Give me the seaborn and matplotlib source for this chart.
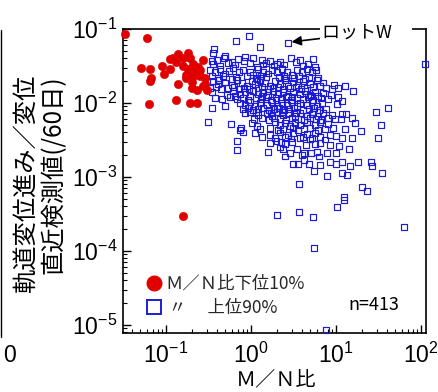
import matplotlib
matplotlib.use("Agg")
import matplotlib.pyplot as plt
import seaborn as sns
import pandas as pd
from matplotlib.lines import Line2D
from matplotlib.ticker import LogLocator, NullFormatter

# ---------------- data ----------------
red_mn = [0.033, 0.059, 0.051, 0.064, 0.067, 0.064, 0.063, 0.090, 0.094, 0.11,
          0.12, 0.11, 0.14, 0.18, 0.16, 0.19, 0.27, 0.21, 0.16, 0.18,
          0.22, 0.25, 0.17, 0.19, 0.22, 0.25, 0.29, 0.14, 0.20, 0.20,
          0.23, 0.27, 0.30, 0.13, 0.19, 0.23, 0.29, 0.16, 0.13, 0.17, 0.24]
red_rate = [0.085, 0.076, 0.030, 0.029, 0.022, 0.020, 0.0096, 0.032, 0.025, 0.039,
            0.040, 0.029, 0.046, 0.048, 0.041, 0.040, 0.038, 0.034, 0.032, 0.029,
            0.028, 0.028, 0.022, 0.024, 0.024, 0.023, 0.022, 0.018, 0.019, 0.016,
            0.015, 0.017, 0.015, 0.011, 0.010, 0.010, 0.018, 0.0003, 0.036, 0.024, 0.031]

blue_mn = [
    0.67, 0.95, 1.28, 2.72, 2.96, 111, 0.37, 0.36, 0.35, 2.19, 4.09, 5.66,
    9.46, 10.5, 8.96, 15.8, 40.8, 29.5, 33.8, 31.2, 19.7, 16.7, 15.4, 13.1, 11.75, 11.4,
    15.4, 14.2, 11.75, 10.8, 10.0, 11.75, 8.49, 7.8, 11.75, 13.45, 18.1, 25.8, 26.5, 34.7,
    20.2, 23.1, 12.4, 3.67, 2.02, 3.67, 5.36, 10.3, 12.4, 63, 5.5, 7.6,
    0.31, 0.35, 0.49, 0.58, 0.76, 0.74, 0.80, 0.68, 0.68, 1.58, 2.5, 3.1, 4.2, 4.8,
    5.5, 3.5, 4.2, 5.1, 6.3, 2.2, 2.4, 2.0, 2.25, 3.77, 4.9, 5.7, 7.4,
    0.40, 0.48, 0.60, 0.70, 0.97, 1.06, 1.35, 1.38, 1.67, 2.02, 5.36,
    0.36, 0.43, 0.54, 0.65, 0.83, 1.18, 1.50, 1.87, 2.45, 3.38, 4.68, 0.49, 0.85, 3.77,
    0.33, 0.38, 0.43, 0.49, 0.55, 0.61, 0.72, 0.81, 0.97, 1.06, 1.21, 1.38,
    1.59, 1.77, 2.02, 2.32, 2.65, 3.04, 3.48, 3.98, 4.56, 5.22, 5.8,
    0.35, 0.41, 0.47, 0.67, 0.90, 1.15, 1.31, 1.50, 2.14, 2.45, 3.2, 3.67, 4.81,
    0.36, 0.41, 0.49, 0.60, 0.68, 0.78, 0.90, 1.03, 1.11, 1.28, 1.46, 1.67,
    1.92, 2.19, 2.51, 2.72, 3.12, 3.57, 4.09, 4.94, 5.97, 6.48, 7.0,
    0.33, 0.39, 0.44, 0.54, 0.63, 0.72, 0.83, 0.95, 1.21, 1.35, 1.58,
    1.81, 2.08, 2.38, 2.88, 3.38, 3.87, 4.56, 5.36, 7.6, 12.7,
    0.42, 0.60, 1.18, 2.58, 4.32, 6.14,
    0.35, 0.52, 0.61, 0.74, 0.85, 0.97, 1.06, 1.21, 1.38, 1.58, 1.81,
    2.08, 2.38, 2.72, 3.12, 3.77, 4.32, 4.94, 5.66, 6.14, 7.0,
    0.38, 0.455, 0.57, 0.68, 0.80, 0.92, 1.15, 1.31, 1.50, 1.72, 1.97,
    2.25, 2.58, 2.96, 3.48, 4.09, 4.68, 5.36, 6.66, 8.04, 10.5,
    0.74, 0.85, 0.97, 1.11, 1.28, 1.54, 1.77, 2.02, 2.32, 2.65,
    3.04, 3.48, 3.77, 4.56, 5.22, 5.97, 6.84, 10.3, 11.75,
    0.80, 0.92, 1.06, 1.21, 1.38, 1.63, 1.87, 2.14, 2.45, 2.80, 3.2, 4.09, 4.81, 5.5, 6.3, 7.6,
    0.65, 1.35, 3.04, 5.08, 8.7,
    0.85, 1.15, 1.72, 2.32, 3.38, 5.36,
    0.97, 1.21, 1.54, 1.77, 2.02, 2.38, 2.72, 3.29, 3.77, 4.56, 5.2, 6.14, 7.0, 8.96,
    1.08, 1.35, 1.63, 1.87, 2.19, 2.58, 3.04, 3.57, 4.2, 4.94, 5.8, 6.66, 8.04, 9.7,
    1.03, 1.18, 1.92, 2.19, 2.51, 2.88, 3.29, 3.77, 4.56, 5.66, 6.48, 8.04,
    1.28, 1.67, 2.08, 2.38, 3.12, 3.57, 4.2, 4.94, 6.14, 7.4, 9.2, 12.7,
    1.11, 1.67, 2.19, 2.72, 3.12, 4.56, 5.66, 8.49,
    1.35, 1.92, 2.51, 2.96, 4.09, 5.22, 6.48, 10.0,
    1.67, 2.51, 3.04, 4.44, 6.48, 8.49,
    2.88, 3.98, 5.97, 7.8,
    3.57, 6.48, 10.0, 14.6,
]
blue_rate = [
    0.069, 0.080, 0.057, 0.065, 0.041, 0.034, 0.054, 0.047, 0.037, 0.036, 0.032, 0.031,
    0.0175, 0.016, 0.0155, 0.0146, 0.0086, 0.0076, 0.0050, 0.0034, 0.0042, 0.0054, 0.0063, 0.0071, 0.0071, 0.0061,
    0.0034, 0.0024, 0.0034, 0.0026, 0.0021, 0.0016, 0.0016, 0.00103, 0.00113, 0.00106, 0.0016, 0.0016, 0.0014, 0.00113,
    0.00073, 0.00065, 0.00054, 0.00080, 0.00031, 0.00034, 0.00029, 0.00039, 0.00049, 0.00021, 0.00011, 0.0000085,
    0.0055, 0.0086, 0.0091, 0.0052, 0.0046, 0.0043, 0.0040, 0.0031, 0.0023, 0.0022, 0.0019, 0.0015, 0.0017, 0.0015,
    0.0012, 0.0024, 0.0021, 0.0021, 0.0019, 0.0025, 0.0024, 0.0031, 0.0030, 0.0034, 0.0032, 0.0028, 0.0032,
    0.038, 0.041, 0.036, 0.039, 0.035, 0.041, 0.038, 0.033, 0.037, 0.034, 0.039,
    0.034, 0.032, 0.035, 0.033, 0.037, 0.031, 0.035, 0.032, 0.033, 0.036, 0.034, 0.043, 0.042, 0.038,
    0.028, 0.026, 0.029, 0.025, 0.027, 0.030, 0.026, 0.028, 0.026, 0.024, 0.029, 0.026,
    0.025, 0.028, 0.026, 0.029, 0.026, 0.024, 0.028, 0.026, 0.029, 0.026, 0.028,
    0.023, 0.022, 0.023, 0.0225, 0.023, 0.022, 0.023, 0.0225, 0.0225, 0.023, 0.022, 0.023, 0.0225,
    0.020, 0.018, 0.019, 0.0175, 0.0205, 0.0187, 0.017, 0.020, 0.018, 0.0205, 0.0187, 0.017,
    0.020, 0.018, 0.0205, 0.017, 0.019, 0.0175, 0.020, 0.018, 0.0205, 0.017, 0.019,
    0.016, 0.0165, 0.0155, 0.016, 0.0165, 0.0155, 0.016, 0.0155, 0.016, 0.0165, 0.0155,
    0.016, 0.0165, 0.0155, 0.016, 0.0165, 0.0155, 0.016, 0.0165, 0.016, 0.017,
    0.0205, 0.021, 0.021, 0.022, 0.021, 0.022,
    0.0141, 0.0128, 0.0146, 0.0133, 0.0141, 0.0125, 0.0146, 0.0133, 0.0141, 0.0128, 0.0146,
    0.0133, 0.0141, 0.0125, 0.0141, 0.0133, 0.0146, 0.0128, 0.0141, 0.0125, 0.0137,
    0.0117, 0.0113, 0.0121, 0.0113, 0.0117, 0.0110, 0.0117, 0.0113, 0.0121, 0.0110, 0.0117,
    0.0113, 0.0121, 0.0110, 0.0117, 0.0113, 0.0121, 0.0110, 0.0117, 0.0113, 0.0121,
    0.0100, 0.0094, 0.0103, 0.0091, 0.0100, 0.0094, 0.0103, 0.0091, 0.0100, 0.0094,
    0.0103, 0.0091, 0.0100, 0.0094, 0.0103, 0.0091, 0.0100, 0.0097, 0.0107,
    0.0083, 0.0086, 0.0080, 0.0083, 0.0086, 0.0080, 0.0083, 0.0086, 0.0080, 0.0083, 0.0086, 0.0080, 0.0083, 0.0086, 0.0080, 0.0083,
    0.0125, 0.0125, 0.0121, 0.0125, 0.0128,
    0.0073, 0.0076, 0.0073, 0.0076, 0.0073, 0.0076,
    0.0076, 0.0069, 0.0073, 0.0067, 0.0076, 0.0069, 0.0073, 0.0067, 0.0073, 0.0067, 0.0071, 0.0067, 0.0073, 0.0069,
    0.0061, 0.0063, 0.0059, 0.0063, 0.0061, 0.0059, 0.0063, 0.0061, 0.0059, 0.0063, 0.0061, 0.0059, 0.0063, 0.0061,
    0.0054, 0.0049, 0.0055, 0.0050, 0.0054, 0.0049, 0.0054, 0.0050, 0.0055, 0.0050, 0.0055, 0.0052,
    0.0045, 0.0046, 0.0043, 0.0045, 0.0046, 0.0043, 0.0045, 0.0046, 0.0043, 0.0045, 0.0046, 0.0045,
    0.0039, 0.0037, 0.0040, 0.0037, 0.0039, 0.0038, 0.0039, 0.0037,
    0.0035, 0.0034, 0.0035, 0.0033, 0.0035, 0.0034, 0.0035, 0.0036,
    0.0029, 0.0028, 0.0030, 0.0027, 0.0029, 0.0027,
    0.0021, 0.0020, 0.0022, 0.0021,
    0.0015, 0.00145, 0.0015, 0.0014,
]

lot_w = (2.72, 0.065)
n_total = 413
legend_labels = ["Ｍ／Ｎ比下位10%", " 〃　 上位90%"]
xlabel = "Ｍ／Ｎ比"
ylabel = "軌道変位進み／変位\n直近検測値(/60日)"

RED = "#e00000"
BLUE = "#1c1cd8"

# ---------------- style ----------------
sns.set_theme(style="ticks")
plt.rcParams["font.family"] = ["Noto Sans CJK JP", "DejaVu Sans"]
plt.rcParams["axes.unicode_minus"] = True

fig = plt.figure(figsize=(4.39, 3.92), dpi=100, facecolor="white")
W, H = 439, 392
ax = fig.add_axes([123 / W, 1 - 333 / H, (426 - 123) / W, (333 - 29) / H])
ax.set_xscale("log")
ax.set_yscale("log")

df_blue = pd.DataFrame({"mn": blue_mn, "rate": blue_rate})
df_red = pd.DataFrame({"mn": red_mn, "rate": red_rate})

sns.scatterplot(data=df_blue, x="mn", y="rate", ax=ax, marker="s", s=17,
                facecolor="none", edgecolor=BLUE, linewidth=0.85,
                clip_on=False, zorder=3)
sns.scatterplot(data=df_red, x="mn", y="rate", ax=ax, marker="o", s=36,
                color=RED, edgecolor=RED, linewidth=0.4,
                clip_on=False, zorder=4)

ax.set_xlim(0.0312, 114.5)
ax.set_ylim(7.8e-6, 0.1)

for sp in ax.spines.values():
    sp.set_color("black")
    sp.set_linewidth(1.2)

ax.xaxis.set_major_locator(LogLocator(base=10, numticks=10))
ax.yaxis.set_major_locator(LogLocator(base=10, numticks=10))
ax.xaxis.set_minor_locator(LogLocator(base=10, subs=range(2, 10), numticks=20))
ax.yaxis.set_minor_locator(LogLocator(base=10, subs=range(2, 10), numticks=20))
ax.xaxis.set_minor_formatter(NullFormatter())
ax.yaxis.set_minor_formatter(NullFormatter())
ax.tick_params(which="both", direction="in", top=False, right=False,
               color="black", labelcolor="black")
ax.tick_params(which="major", length=6, width=1.0, labelsize=16.5,
               labelfontfamily="Liberation Sans")
ax.tick_params(axis="x", which="major", pad=7)
ax.tick_params(axis="y", which="major", pad=4)
ax.tick_params(which="minor", length=3, width=0.8)

ax.set_xlabel(xlabel, fontsize=14.5, color="black")
ax.xaxis.set_label_coords(0.505, -0.118)
ax.set_ylabel(ylabel, fontsize=17.5, color="black", multialignment="right",
              linespacing=1.1)
ax.yaxis.set_label_coords(-0.185, 0.49)

# annotation for lot W
ax.annotate("ロットW　", xy=(3.0, 0.067), xytext=(6.84, 0.088),
            ha="left", va="center", fontsize=13, color="black",
            bbox=dict(boxstyle="square,pad=0.12", fc="white", ec="none"),
            arrowprops=dict(arrowstyle="-|>", color="black", lw=1.2,
                            shrinkA=0, shrinkB=0, mutation_scale=14),
            annotation_clip=False, zorder=6)

# legend
h1 = Line2D([], [], ls="none", marker="o", ms=10.5, mfc=RED, mec=RED)
h2 = Line2D([], [], ls="none", marker="s", ms=10, mfc="none", mec=BLUE, mew=1.4)
ax.legend([h1, h2], legend_labels, loc="lower left",
          bbox_to_anchor=(0.075, 0.052), frameon=False, fontsize=12.5,
          handlelength=1.0, handletextpad=0.12, labelspacing=0.38,
          borderpad=0, borderaxespad=0)

ax.text(0.743, 0.092, f"n={n_total}", transform=ax.transAxes, fontsize=13,
        ha="left", va="center", color="black")

# fragments of the neighbouring panel visible at the left edge
fig.add_artist(Line2D([1.5 / W, 1.5 / W], [1 - 30 / H, 1 - 337 / H],
                      color="black", lw=1.0, transform=fig.transFigure))
fig.text(10 / W, 1 - 355 / H, "0", fontsize=16.5, family="Liberation Sans",
         ha="center", va="center", color="black")

fig.savefig("out.png", dpi=100, facecolor="white")
